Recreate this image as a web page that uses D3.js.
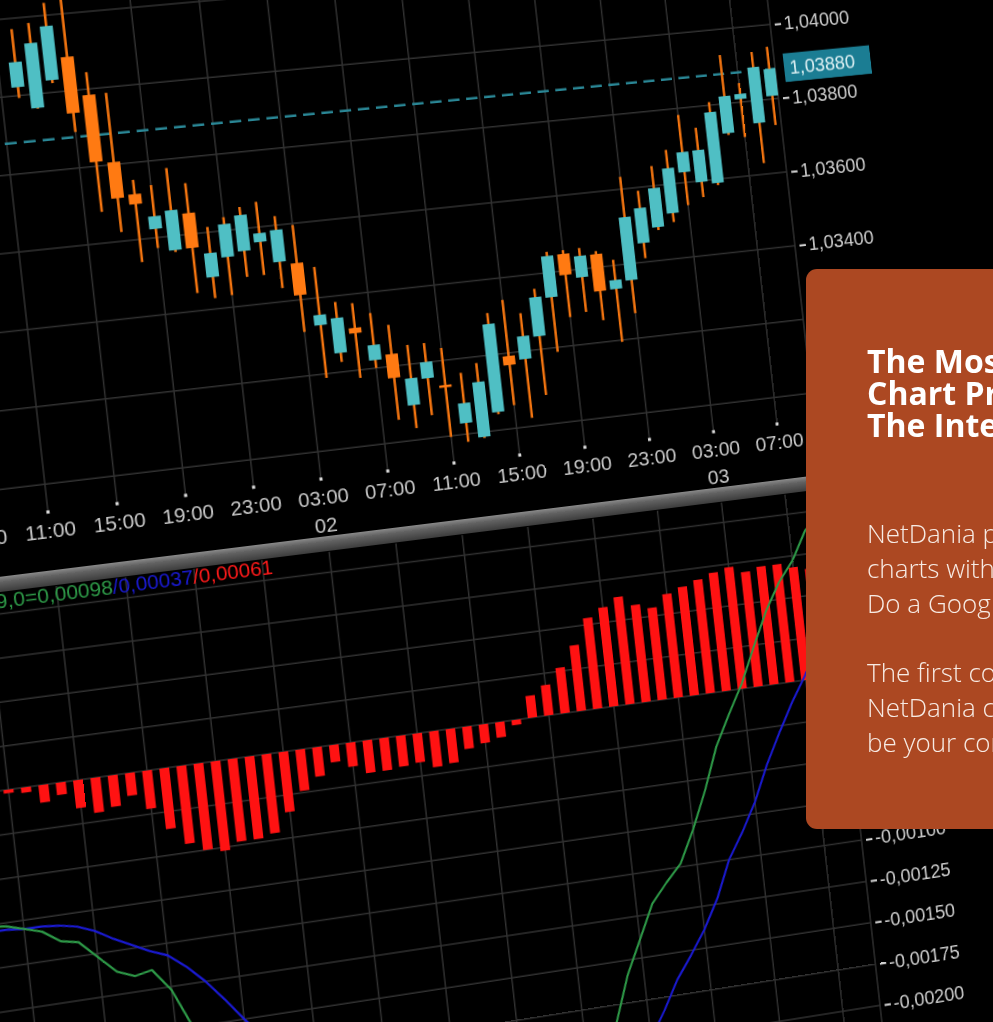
<!DOCTYPE html>
<html><head><meta charset="utf-8">
<script src="https://cdn.jsdelivr.net/npm/d3@7/dist/d3.min.js"></script>
<style>
html,body{margin:0;padding:0;background:#000;overflow:hidden;width:993px;height:1022px;}
#chartWrap{position:absolute;left:0;top:0;width:1250px;height:1500px;transform-origin:0 0 0;}
#overlay{position:absolute;left:0;top:0;}
</style></head><body>
<div id="chartWrap"></div>
<svg id="overlay" width="993" height="1022"></svg>
<script>
// ---------------- DATA ----------------
// hour index 0 = 11:00 on day 01; one candle per hour
const candleStart = 1;
const opens  = [1.04022,1.03964,1.04032,1.04088,1.03985,1.03806,1.03718,1.03623,1.03563,1.03655,1.03483,1.03531,1.03542,1.03561,1.03504,1.03496,1.03328,1.03250,1.03311,1.03221,1.03232,1.03092,1.03158,1.03135,1.03029,1.02987,1.03048,1.03192,1.03179,1.03235,1.03334,1.03445,1.03378,1.03435,1.03337,1.03356,1.03451,1.03489,1.03522,1.03628,1.03597,1.03590,1.03720,1.03808,1.03739,1.03808];
const highs  = [1.04172,1.04184,1.04232,1.04249,1.04044,1.03986,1.03755,1.03737,1.03777,1.03733,1.03614,1.03635,1.03657,1.03666,1.03624,1.03596,1.03481,1.03384,1.03376,1.03345,1.03309,1.03251,1.03251,1.03233,1.03162,1.03183,1.03311,1.03341,1.03301,1.03361,1.03455,1.03455,1.03456,1.03443,1.03415,1.03633,1.03591,1.03653,1.03692,1.03782,1.03743,1.03808,1.03931,1.03851,1.03931,1.03941];
const lows   = [1.03994,1.03962,1.04024,1.03893,1.03681,1.03624,1.03541,1.03573,1.03558,1.03446,1.03428,1.03431,1.03474,1.03474,1.03435,1.03315,1.03189,1.03226,1.03179,1.03200,1.03058,1.03031,1.03060,1.02997,1.02979,1.02984,1.03042,1.03061,1.03022,1.03078,1.03188,1.03276,1.03285,1.03258,1.03195,1.03267,1.03410,1.03481,1.03498,1.03539,1.03556,1.03584,1.03715,1.03705,1.03630,1.03729];
const closes = [1.04087,1.04132,1.04172,1.03942,1.03811,1.03712,1.03692,1.03656,1.03667,1.03564,1.03546,1.03617,1.03636,1.03584,1.03588,1.03412,1.03355,1.03342,1.03297,1.03261,1.03169,1.03163,1.03201,1.03130,1.03082,1.03133,1.03282,1.03168,1.03240,1.03339,1.03444,1.03389,1.03435,1.03336,1.03361,1.03525,1.03545,1.03594,1.03643,1.03682,1.03683,1.03781,1.03820,1.03822,1.03890,1.03881];
const lastPrice = 1.03880;

const macdStart = -6;
const macdLine   = [-0.00076,-0.00077,-0.00080,-0.00083,-0.00090,-0.00092,-0.00102,-0.00112,-0.00116,-0.00114,-0.00127,-0.00150,-0.00170,-0.00187,-0.00202,-0.00210,-0.00222,-0.00232,-0.00230,-0.00225,-0.00222,-0.00218,-0.00225,-0.00235,-0.00239,-0.00243,-0.00246,-0.00254,-0.00258,-0.00254,-0.00254,-0.00254,-0.00249,-0.00230,-0.00220,-0.00205,-0.00186,-0.00159,-0.00139,-0.00119,-0.00108,-0.00098,-0.00079,-0.00057,-0.00032,-0.00014,0.00003,0.00024,0.00044,0.00060,0.00072,0.00089,0.00098];
const signalLine = [-0.00079,-0.00079,-0.00080,-0.00080,-0.00081,-0.00083,-0.00087,-0.00093,-0.00098,-0.00103,-0.00107,-0.00115,-0.00125,-0.00137,-0.00150,-0.00162,-0.00174,-0.00186,-0.00195,-0.00201,-0.00205,-0.00208,-0.00211,-0.00216,-0.00220,-0.00225,-0.00229,-0.00233,-0.00238,-0.00241,-0.00243,-0.00245,-0.00246,-0.00243,-0.00238,-0.00232,-0.00225,-0.00213,-0.00198,-0.00183,-0.00166,-0.00153,-0.00139,-0.00122,-0.00100,-0.00085,-0.00068,-0.00047,-0.00029,-0.00012,0.00003,0.00022,0.00037];
const histogram  = [0.00001,-0.00001,-0.00002,-0.00003,-0.00010,-0.00007,-0.00016,-0.00020,-0.00018,-0.00013,-0.00022,-0.00035,-0.00045,-0.00050,-0.00052,-0.00048,-0.00048,-0.00046,-0.00035,-0.00024,-0.00017,-0.00010,-0.00014,-0.00019,-0.00019,-0.00018,-0.00017,-0.00021,-0.00020,-0.00013,-0.00011,-0.00009,-0.00003,0.00013,0.00018,0.00027,0.00039,0.00054,0.00059,0.00064,0.00058,0.00055,0.00062,0.00065,0.00068,0.00071,0.00073,0.00069,0.00071,0.00071,0.00068,0.00066,0.00061];

const timeTickIndex  = [-4,0,4,8,12,16,20,24,28,32,36,40,44];
const timeTickLabels = ["07:00","11:00","15:00","19:00","23:00","03:00","07:00","11:00","15:00","19:00","23:00","03:00","07:00"];
const dateTickIndex  = [16,40];
const dateTickLabels = ["02","03"];
const priceGrid  = [1.030,1.032,1.034,1.036,1.038,1.040,1.042];
const priceTicks = [1.030,1.032,1.034,1.036,1.038,1.040];
const macdGrid   = [0.001,0.00075,0.0005,0.00025,0,-0.00025,-0.0005,-0.00075,-0.001,-0.00125,-0.0015,-0.00175,-0.002,-0.00225,-0.0025];
const macdTicks  = [0.001,0.00075,0.0005,0.00025,0,-0.00025,-0.0005,-0.00075,-0.001,-0.00125,-0.0015,-0.00175,-0.002];
const legendPrefix = "MACD 12,26,9,0=";
const legendParts  = ["0,00098","/0,00037","/0,00061"];
const titleLines = ["The Most Advanced","Chart Program On","The Internet"];
const bodyLines  = ["NetDania provides free","charts with real-time data.","Do a Google search for","","The first company to","NetDania charts will","be your constant guide."];

// ---------------- LAYOUT (flat chart plane, then photographed in perspective) ----------------
const OX = 250, OY = 700, FW = 1250, FH = 1500;
const HX = [1, 0.112, 48], HY = [-0.08865, 1, 512], HW = [0.00006188, 0, 1];
const a4 = HX[2] - HX[0]*OX - HX[1]*OY;
const b4 = HY[2] - HY[0]*OX - HY[1]*OY;
const d4 = HW[2] - HW[0]*OX - HW[1]*OY;
const wrap = d3.select("#chartWrap")
  .style("transform", `matrix3d(${HX[0]},${HY[0]},0,${HW[0]},${HX[1]},${HY[1]},0,${HW[1]},0,0,1,0,${a4},${b4},0,${d4})`);

const svg = wrap.append("svg").attr("width", FW).attr("height", FH);
const defs = svg.append("defs");
const g = svg.append("g").attr("transform", `translate(${OX},${OY})`);

const HOUR = 17.406;
const x = d3.scaleLinear().domain([0, 1]).range([0, HOUR]);
const yP = d3.scaleLinear().domain([1.040, 1.034]).range([-414.7, -182.6]);
const yM = d3.scaleLinear().domain([0, -0.001]).range([268, 441.5]);
const AXIS_X = 807, LEFT = -230;
const PRICE_TOP = -720, PRICE_BOT = 0, MACD_TOP = 74, MACD_BOT = 820;
const FONT = "'Liberation Sans', Arial, sans-serif";
const GRID = "#323232";

const candles = opens.map((o, k) => ({i: candleStart + k, o, h: highs[k], l: lows[k], c: closes[k]}));
const macdData = macdLine.map((v, k) => ({i: macdStart + k, v}));
const sigData = signalLine.map((v, k) => ({i: macdStart + k, v}));
const histData = histogram.map((v, k) => ({i: macdStart + k, v}));

// ----- grids -----
const grid = g.append("g").attr("stroke", GRID).attr("stroke-width", 1.5);
grid.selectAll(".hp").data(priceGrid).join("line")
  .attr("x1", LEFT).attr("x2", AXIS_X).attr("y1", d => yP(d)).attr("y2", d => yP(d));
grid.selectAll(".hm").data(macdGrid).join("line")
  .attr("x1", LEFT).attr("x2", AXIS_X).attr("y1", d => yM(d)).attr("y2", d => yM(d));
grid.selectAll(".vp").data(timeTickIndex).join("line")
  .attr("x1", d => x(d)).attr("x2", d => x(d)).attr("y1", PRICE_TOP).attr("y2", PRICE_BOT);
grid.selectAll(".vm").data(timeTickIndex).join("line")
  .attr("x1", d => x(d)).attr("x2", d => x(d)).attr("y1", MACD_TOP).attr("y2", MACD_BOT);
grid.append("line").attr("x1", AXIS_X).attr("x2", AXIS_X).attr("y1", PRICE_TOP).attr("y2", PRICE_BOT);
grid.append("line").attr("x1", AXIS_X).attr("x2", AXIS_X).attr("y1", MACD_TOP).attr("y2", MACD_BOT);

// ----- last price dashed line -----
g.append("line").attr("x1", LEFT).attr("x2", AXIS_X)
  .attr("y1", yP(lastPrice)).attr("y2", yP(lastPrice))
  .attr("stroke", "#2a8796").attr("stroke-width", 2.4).attr("stroke-dasharray", "12,7");

// ----- candles -----
const TEAL = "#4fbfc4", ORANGE = "#ff7a12";
const cg = g.append("g");
cg.selectAll(".wick").data(candles).join("line")
  .attr("x1", d => x(d.i)).attr("x2", d => x(d.i))
  .attr("y1", d => yP(d.h)).attr("y2", d => yP(d.l))
  .attr("stroke", "#f27410").attr("stroke-width", 2.6);
cg.selectAll(".body").data(candles).join("rect")
  .attr("x", d => x(d.i) - 6.5).attr("width", 13)
  .attr("y", d => yP(Math.max(d.o, d.c)))
  .attr("height", d => Math.max(2.5, yP(Math.min(d.o, d.c)) - yP(Math.max(d.o, d.c))))
  .attr("fill", d => d.c >= d.o ? TEAL : ORANGE);

// ----- price axis -----
const fmt = d => d.toFixed(5).replace(".", ",");
const pAxis = g.append("g").attr("transform", `translate(${AXIS_X},0)`)
  .call(d3.axisRight(yP).tickValues(priceTicks).tickFormat(fmt).tickSize(12).tickPadding(3));
pAxis.select(".domain").remove();
pAxis.selectAll(".tick line").attr("x1", 5).attr("x2", 12).attr("stroke", "#cfcfcf").attr("stroke-width", 2.2);
pAxis.selectAll(".tick text").attr("x", 15).attr("fill", "#cdcdcd")
  .style("font-family", FONT).style("font-size", "20px");

// current price box
const lp = g.append("g").attr("transform", `translate(${AXIS_X + 10},${yP(lastPrice)})`);
lp.append("rect").attr("x", 0).attr("y", -15).attr("width", 96).attr("height", 30).attr("fill", "#1b7d93");
lp.append("text").attr("x", 6).attr("y", 0).attr("dy", "0.35em").attr("fill", "#dff1f4")
  .style("font-family", FONT).style("font-size", "20px").text(fmt(lastPrice));

// ----- time axis -----
const tAxis = g.append("g").attr("transform", `translate(0,${PRICE_BOT})`)
  .call(d3.axisBottom(x).tickValues(timeTickIndex).tickFormat((d, k) => timeTickLabels[k]).tickSize(0));
tAxis.select(".domain").remove();
tAxis.selectAll(".tick text").attr("y", 19).attr("dy", "0.35em").attr("fill", "#c9c9c9")
  .style("font-family", FONT).style("font-size", "21px");
g.selectAll(".tdot").data(timeTickIndex).join("rect")
  .attr("x", d => x(d) - 1.6).attr("y", -1.6).attr("width", 3.2).attr("height", 3.2).attr("fill", "#dcdcdc");
g.selectAll(".dlab").data(dateTickIndex).join("text")
  .attr("x", d => x(d)).attr("y", 47).attr("dy", "0.35em").attr("text-anchor", "middle")
  .attr("fill", "#c9c9c9").style("font-family", FONT).style("font-size", "21px")
  .text((d, k) => dateTickLabels[k]);

// ----- separator bar -----
const grad = defs.append("linearGradient").attr("id", "sep").attr("x1", 0).attr("x2", 0).attr("y1", 0).attr("y2", 1);
grad.append("stop").attr("offset", 0).attr("stop-color", "#8a8a8a");
grad.append("stop").attr("offset", 0.35).attr("stop-color", "#626262");
grad.append("stop").attr("offset", 1).attr("stop-color", "#3c3c3c");
g.append("rect").attr("x", -300).attr("y", 58).attr("width", 1350).attr("height", 15).attr("fill", "url(#sep)");

// ----- MACD pane -----
const mg = g.append("g");
mg.selectAll(".hist").data(histData).join("rect")
  .attr("x", d => x(d.i) - 5).attr("width", 10)
  .attr("y", d => Math.min(yM(0), yM(d.v)))
  .attr("height", d => Math.max(1.5, Math.abs(yM(d.v) - yM(0))))
  .attr("fill", "#ff1212");
const line = d3.line().x(d => x(d.i)).y(d => yM(d.v));
mg.append("path").datum(sigData).attr("d", line).attr("fill", "none")
  .attr("stroke", "#1a1ad2").attr("stroke-width", 2.2).attr("stroke-linejoin", "round");
mg.append("path").datum(macdData).attr("d", line).attr("fill", "none")
  .attr("stroke", "#2e9a48").attr("stroke-width", 2.2).attr("stroke-linejoin", "round");

const mAxis = g.append("g").attr("transform", `translate(${AXIS_X},0)`)
  .call(d3.axisRight(yM).tickValues(macdTicks).tickFormat(fmt).tickSize(12).tickPadding(3));
mAxis.select(".domain").remove();
mAxis.selectAll(".tick line").attr("x1", 5).attr("x2", 12).attr("stroke", "#cfcfcf").attr("stroke-width", 2.2);
mAxis.selectAll(".tick text").attr("x", 15).attr("fill", "#cdcdcd")
  .style("font-family", FONT).style("font-size", "20px");

// legend
const LX = -20, LY = 82;
g.append("text").attr("x", LX).attr("y", LY).attr("dy", "0.35em").attr("text-anchor", "end")
  .attr("fill", "#2e9a48").style("font-family", FONT).style("font-size", "21px").text(legendPrefix);
const lt = g.append("text").attr("x", LX).attr("y", LY).attr("dy", "0.35em")
  .style("font-family", FONT).style("font-size", "21px");
const legendColors = ["#2e9a48", "#1a1ad2", "#ff1a1a"];
legendParts.forEach((t, k) => lt.append("tspan").attr("fill", legendColors[k]).text(t));

// ---------------- OVERLAY PANEL ----------------
const ov = d3.select("#overlay");
ov.append("rect").attr("x", 806).attr("y", 269).attr("width", 240).attr("height", 560)
  .attr("rx", 11).attr("fill", "#ac4822");
ov.selectAll(".tl").data(titleLines).join("text")
  .attr("x", 867).attr("y", (d, k) => 373 + k * 32)
  .attr("fill", "#ffffff").style("font-family", "'Open Sans', 'Noto Sans', sans-serif")
  .style("font-weight", 700).style("font-size", "32px").text(d => d);
ov.selectAll(".bl").data(bodyLines).join("text")
  .attr("x", 867).attr("y", (d, k) => 543 + k * 34.8)
  .attr("fill", "#f7ebe4").style("font-family", "'Open Sans', 'Noto Sans', sans-serif")
  .style("font-weight", 300).style("font-size", "26px").text(d => d);
</script>
</body></html>
